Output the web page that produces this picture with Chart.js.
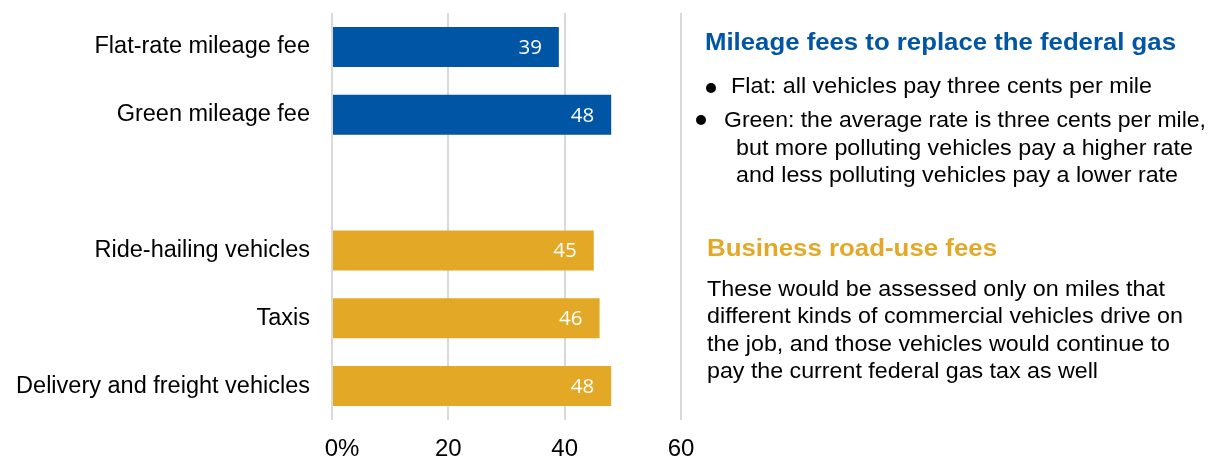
<!DOCTYPE html>
<html>
<head>
<meta charset="utf-8">
<script src="https://cdn.jsdelivr.net/npm/chart.js@4/dist/chart.umd.min.js"></script>
<style>
  body { margin: 0; background: #fff; }
  #wrap { position: relative; width: 1229px; height: 460px; overflow: hidden; }
  #chart { position: absolute; left: 0; top: 0; }
  .note { position: absolute; white-space: pre; line-height: 1; font-family: "Liberation Sans", Arial, sans-serif; color: #000; transform-origin: 0 0; }
  .bold { font-weight: bold; }
  .dot { position: absolute; width: 10px; height: 10px; border-radius: 50%; background: #000; }
</style>
</head>
<body>
<div id="wrap">
  <canvas id="chart" width="1229" height="460"></canvas>
</div>
<script>
// survey results, percent in favour
const categories = ['Flat-rate mileage fee', 'Green mileage fee', '', 'Ride-hailing vehicles', 'Taxis', 'Delivery and freight vehicles'];
const shares = [39, 48, null, 45, 46, 48];
const groups = ['mileage', 'mileage', '', 'business', 'business', 'business'];
const xTicks = [0, 20, 40, 60];

const groupColor = { mileage: '#0055a4', business: '#e3a826', '': 'rgba(0,0,0,0)' };
const labelFont = '"Liberation Sans", Arial, sans-serif';

// white numbers inside the end of each bar
const valueLabels = {
  id: 'valueLabels',
  afterDatasetsDraw(chart) {
    const ctx = chart.ctx;
    const meta = chart.getDatasetMeta(0);
    ctx.save();
    ctx.fillStyle = '#fff';
    ctx.font = '20.5px "Open Sans", sans-serif';
    ctx.textAlign = 'right';
    ctx.textBaseline = 'middle';
    meta.data.forEach(function (bar, i) {
      if (shares[i] == null) return;
      ctx.fillText(String(shares[i]), bar.x - 17, bar.y + 1);
    });
    ctx.restore();
  }
};

const ctx1 = document.getElementById('chart');
const myChart = new Chart(ctx1, {
  type: 'bar',
  data: {
    labels: categories,
    datasets: [{
      data: shares,
      backgroundColor: groups.map(g => groupColor[g]),
      barPercentage: 0.59,
      categoryPercentage: 1
    }]
  },
  options: {
    indexAxis: 'y',
    responsive: false,
    animation: false,
    layout: { padding: { top: 13, right: 548, bottom: 0, left: 0 } },
    plugins: { legend: { display: false }, tooltip: { enabled: false } },
    scales: {
      x: {
        min: xTicks[0],
        max: xTicks[xTicks.length - 1],
        afterBuildTicks(scale) { scale.ticks = xTicks.map(v => ({ value: v })); },
        afterFit(scale) {
          scale.height = 40;
          scale.paddingLeft = 0;
          scale.paddingRight = 0;
        },
        grid: { color: '#d9d9d9', lineWidth: 2, drawTicks: false },
        border: { display: false },
        ticks: {
          padding: 15,
          color: '#000',
          font: { family: labelFont, size: 24 },
          callback: v => (v === 0 ? '   0%' : v)
        }
      },
      y: {
        afterFit(scale) {
          scale.width = 332;
          scale.paddingTop = 0;
          scale.paddingBottom = 0;
        },
        grid: { display: false, drawTicks: false },
        border: { display: false },
        ticks: {
          padding: 22,
          color: '#000',
          font: { family: labelFont, size: 23.5 }
        }
      }
    }
  },
  plugins: [valueLabels]
});

// side notes: x, baseline, font size and the width each line spans
const notes = [
  { text: 'Mileage fees to replace the federal gas', x: 705, base: 51, size: 24.5, w: 471, bold: true, color: '#0055a4' },
  { text: 'Flat: all vehicles pay three cents per mile', x: 731, base: 94, size: 22, w: 421 },
  { text: 'Green: the average rate is three cents per mile,', x: 724, base: 127.5, size: 22, w: 482 },
  { text: 'but more polluting vehicles pay a higher rate', x: 736, base: 155.5, size: 22, w: 457 },
  { text: 'and less polluting vehicles pay a lower rate', x: 736, base: 183, size: 22, w: 442 },
  { text: 'Business road-use fees', x: 707, base: 257, size: 23.5, w: 290, bold: true, color: '#e3a826' },
  { text: 'These would be assessed only on miles that', x: 707, base: 296.5, size: 22, w: 458 },
  { text: 'different kinds of commercial vehicles drive on', x: 707, base: 324, size: 22, w: 476 },
  { text: 'the job, and those vehicles would continue to', x: 707, base: 351.5, size: 22, w: 463 },
  { text: 'pay the current federal gas tax as well', x: 707, base: 379, size: 22, w: 391 }
];
const bullets = [[711, 88], [700.5, 119.5]];

const wrap = document.getElementById('wrap');
notes.forEach(function (n) {
  const d = document.createElement('div');
  d.className = 'note' + (n.bold ? ' bold' : '');
  d.textContent = n.text;
  d.style.left = n.x + 'px';
  d.style.top = (n.base - 0.8465 * n.size) + 'px';
  d.style.fontSize = n.size + 'px';
  if (n.color) d.style.color = n.color;
  wrap.appendChild(d);
  const natural = d.getBoundingClientRect().width;
  d.style.transform = 'scaleX(' + (n.w / natural) + ')';
});
bullets.forEach(function (b) {
  const s = document.createElement('div');
  s.className = 'dot';
  s.style.left = (b[0] - 5) + 'px';
  s.style.top = (b[1] - 5) + 'px';
  wrap.appendChild(s);
});
</script>
</body>
</html>
